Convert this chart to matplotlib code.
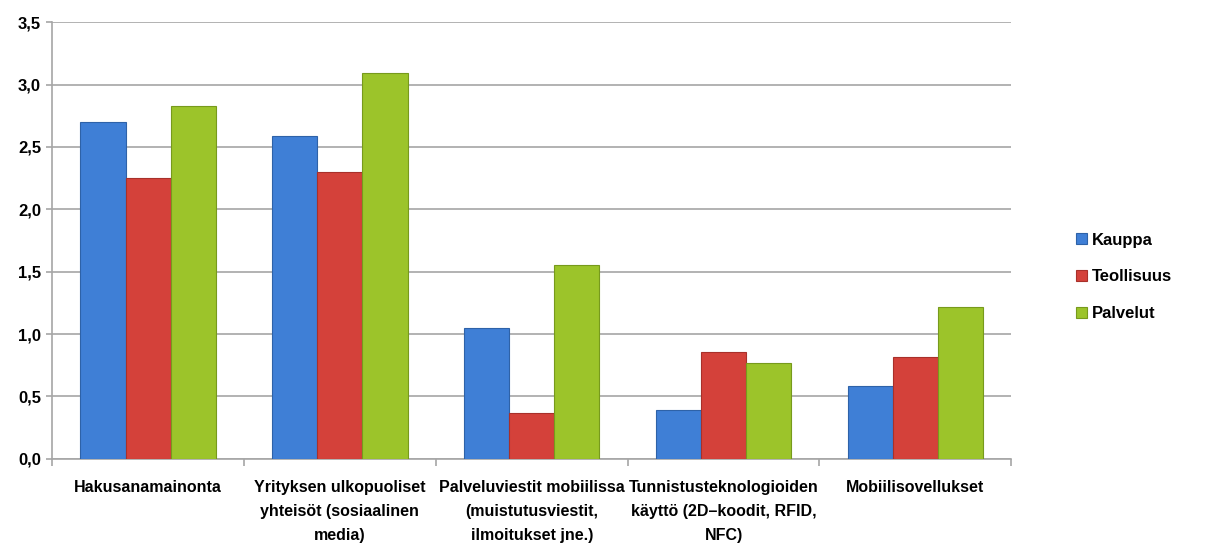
import matplotlib
matplotlib.use('Agg')
import matplotlib.pyplot as plt
import numpy as np

categories = ['Hakusanamainonta',
              'Yrityksen ulkopuoliset\nyhteisöt (sosiaalinen\nmedia)',
              'Palveluviestit mobiilissa\n(muistutusviestit,\nilmoitukset jne.)',
              'Tunnistusteknologioiden\nkäyttö (2D\u2013koodit, RFID,\nNFC)',
              'Mobiilisovellukset']
series = ['Kauppa', 'Teollisuus', 'Palvelut']
kauppa = [2.70, 2.59, 1.05, 0.39, 0.58]
teollisuus = [2.25, 2.30, 0.37, 0.86, 0.82]
palvelut = [2.83, 3.09, 1.55, 0.77, 1.22]
colors = ['#3F7FD6', '#D4413A', '#9CC42A']
edges = ['#2E62A8', '#A8302A', '#779A1C']

plt.rcParams['font.family'] = ['Liberation Sans', 'DejaVu Sans']
plt.rcParams['font.weight'] = 'bold'

fig = plt.figure(figsize=(12.14, 5.43), dpi=100)
ax = fig.add_axes([0.043, 0.155, 0.79, 0.804])

x = np.arange(len(categories))
w = 0.235
for i, (vals, c, e, name) in enumerate(zip([kauppa, teollisuus, palvelut], colors, edges, series)):
    ax.bar(x + (i - 1) * w, vals, w, color=c, edgecolor=e, linewidth=0.8, label=name, zorder=3)

ax.set_xlim(-0.5, len(categories) - 0.5)
ax.set_ylim(0, 3.5)
yt = np.arange(0, 3.51, 0.5)
ax.set_yticks(yt)
ax.set_yticklabels(['{:.1f}'.format(v).replace('.', ',') for v in yt],
                   fontsize=12, fontweight='bold')
ax.yaxis.grid(True, color='#A6A6A6', linewidth=1.2, zorder=0)
ax.set_axisbelow(True)

# category boundaries as major ticks, labels on minor ticks
ax.set_xticks(np.arange(-0.5, len(categories), 1.0))
ax.set_xticklabels([])
ax.set_xticks(x, minor=True)
ax.set_xticklabels(categories, minor=True, fontsize=11.5, fontweight='bold', linespacing=1.75)
ax.tick_params(axis='x', which='minor', length=0, pad=15)
ax.tick_params(axis='x', which='major', length=5, color='#A6A6A6', width=1.2)
ax.tick_params(axis='y', length=4, color='#A6A6A6', width=1.2, pad=4)

for s in ['top', 'right']:
    ax.spines[s].set_visible(False)
for s in ['left', 'bottom']:
    ax.spines[s].set_color('#A6A6A6')
    ax.spines[s].set_linewidth(1.2)

handles, labels = ax.get_legend_handles_labels()
fig.legend(handles, labels, loc='center left', bbox_to_anchor=(0.874, 0.49), frameon=False,
           fontsize=12, handlelength=0.65, handleheight=0.65, handletextpad=0.3, labelspacing=1.3)

plt.savefig('out.png', dpi=100)
